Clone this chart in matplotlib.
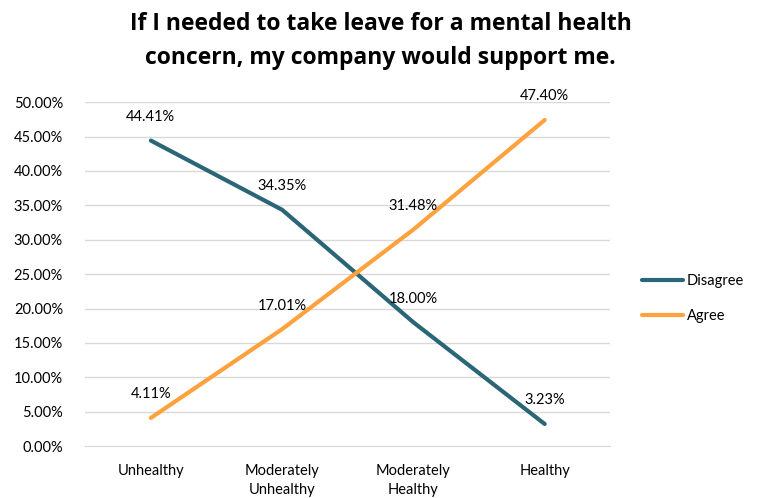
import matplotlib
matplotlib.use("Agg")
import matplotlib.pyplot as plt
from matplotlib.ticker import FuncFormatter

categories = ["Unhealthy", "Moderately\nUnhealthy", "Moderately\nHealthy", "Healthy"]
disagree = [44.41, 34.35, 18.00, 3.23]
agree = [4.11, 17.01, 31.48, 47.40]
series_names = ["Disagree", "Agree"]
colors = ["#2B6677", "#FFA23E"]
title = "If I needed to take leave for a mental health\nconcern, my company would support me."

plt.rcParams['font.family'] = ['Lato', 'DejaVu Sans']

fig = plt.figure(figsize=(7.61, 4.98), dpi=100)
ax = fig.add_axes([0.112, 0.104, 0.69, 0.691])

x = list(range(len(categories)))
for vals, name, c in zip([disagree, agree], series_names, colors):
    ax.plot(x, vals, color=c, lw=3, label=name, solid_capstyle='round')
    for xi, v in zip(x, vals):
        ax.annotate(f"{v:.2f}%", (xi, v), xytext=(0, 17), textcoords='offset points',
                    ha='center', va='center', fontsize=10.5, color='#000000')

ax.set_xlim(-0.5, 3.5)
ax.set_ylim(0, 50)
ax.set_yticks([i * 5 for i in range(11)])
ax.yaxis.set_major_formatter(FuncFormatter(lambda v, p: f"{v:.2f}%"))
ax.set_xticks(x)
ax.set_xticklabels(categories, fontsize=10.5, linespacing=1.45)
ax.tick_params(axis='y', labelsize=10.5, length=0, pad=16)
ax.tick_params(axis='x', length=0, pad=13)
ax.grid(axis='y', color='#D9D9D9', lw=1)
ax.set_axisbelow(True)
for s in ['top', 'right', 'left']:
    ax.spines[s].set_visible(False)
ax.spines['bottom'].set_color('#D9D9D9')

fig.text(0.5, 0.975, title, ha='center', va='top', fontsize=16.5, fontweight='bold',
         family=['Open Sans', 'DejaVu Sans'], linespacing=1.55)

ax.legend(loc='center left', bbox_to_anchor=(1.035, 0.43), frameon=False, fontsize=10.5,
          handlelength=2.8, labelspacing=1.45, handletextpad=0.3)

fig.savefig("out.png", dpi=100)
